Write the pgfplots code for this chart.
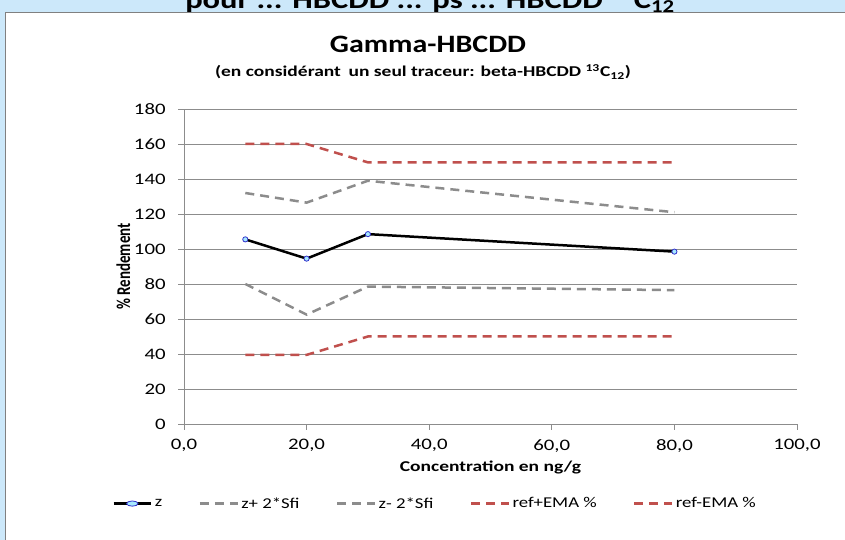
\documentclass[border=0pt]{standalone}
\usepackage{pgfplots}
\pgfplotsset{compat=1.18}
\usepackage{fontspec}
\setmainfont{Carlito}
\definecolor{bgblue}{RGB}{204,232,250}
\definecolor{refred}{RGB}{192,80,77}
\definecolor{mgray}{RGB}{140,140,140}
\begin{document}
\begin{tikzpicture}
\useasboundingbox (0pt,0pt) rectangle (845pt,540pt);
\fill[bgblue] (0pt,0pt) rectangle (845pt,540pt);
\fill[white,draw=gray] (5pt,-1pt) rectangle (846pt,528pt);
\begin{scope}
\clip (0pt,528pt) rectangle (845pt,540pt);
\node[font=\bfseries\fontsize{26}{28}\selectfont,anchor=base,xscale=1.25] at (430pt,531pt) {pour ... HBCDD ... ps ... HBCDD \textsuperscript{13}C\textsubscript{12}};
\end{scope}
\node[font=\bfseries\fontsize{25}{28}\selectfont,xscale=1.2] at (428pt,496pt) {Gamma-HBCDD};
\node[font=\bfseries\fontsize{15}{17}\selectfont,xscale=1.3] at (423pt,468pt) {(en considérant\, un seul traceur: beta-HBCDD \textsuperscript{13}C\textsubscript{12})};
\begin{axis}[
  at={(184pt,116pt)}, anchor=origin,
  scale only axis, width=613pt, height=315pt,
  xmin=0, xmax=100, ymin=0, ymax=180,
  xtick={0,20,...,100}, ytick={0,20,...,180},
  xticklabel={\pgfmathprintnumber[fixed,fixed zerofill,precision=1,use comma]{\tick}},
  /pgf/number format/assume math mode=true,
  ticklabel style={font=\fontsize{16}{18}\selectfont,xscale=1.3},
  xticklabel style={yshift=-6pt},
  yticklabel style={xshift=-6pt},
  ymajorgrids, grid style={gray!90,line width=0.8pt},
  axis x line*=bottom, axis y line*=left,
  axis line style={gray!90,-,line width=0.8pt},
  tick style={gray!90,line width=0.8pt}, tick align=outside, major tick length=6pt,
  xlabel={\bfseries Concentration en ng/g},
  ylabel={\bfseries \% Rendement},
  label style={font=\bfseries\fontsize{15}{17}\selectfont},
  xlabel style={xscale=1.3,yshift=-2pt},
  ylabel style={yscale=1.3,yshift=-4pt},
  legend style={at={(0.41,-0.22)},anchor=north,legend columns=5,draw=none,fill=none,
    font=\fontsize{15}{17}\selectfont,/tikz/every even column/.append style={column sep=34pt},
    nodes={xscale=1.25}},
  legend image post style={xscale=2.2},
]
\addplot[black,line width=2.5pt,mark=*,mark options={fill=blue!25!cyan!35,draw=blue!60!gray,line width=0.8pt,scale=1.3}] coordinates {(10,105.5)(20,94.5)(30,108.5)(80,98.5)};
\addlegendentry{z}
\addplot[mgray,line width=2.5pt,dash pattern=on 9pt off 6pt] coordinates {(10,132)(20,126.5)(30,139)(80,121)};
\addlegendentry{z+ 2*Sfi}
\addplot[mgray,line width=2.5pt,dash pattern=on 9pt off 6pt] coordinates {(10,80)(20,62.5)(30,78.5)(80,76.5)};
\addlegendentry{z- 2*Sfi}
\addplot[refred,line width=2.5pt,dash pattern=on 9pt off 6pt] coordinates {(10,160)(20,160)(30,149.5)(80,149.5)};
\addlegendentry{ref+EMA \%}
\addplot[refred,line width=2.5pt,dash pattern=on 9pt off 6pt] coordinates {(10,39.5)(20,39.5)(30,50)(80,50)};
\addlegendentry{ref-EMA \%}
\end{axis}
\end{tikzpicture}
\end{document}
